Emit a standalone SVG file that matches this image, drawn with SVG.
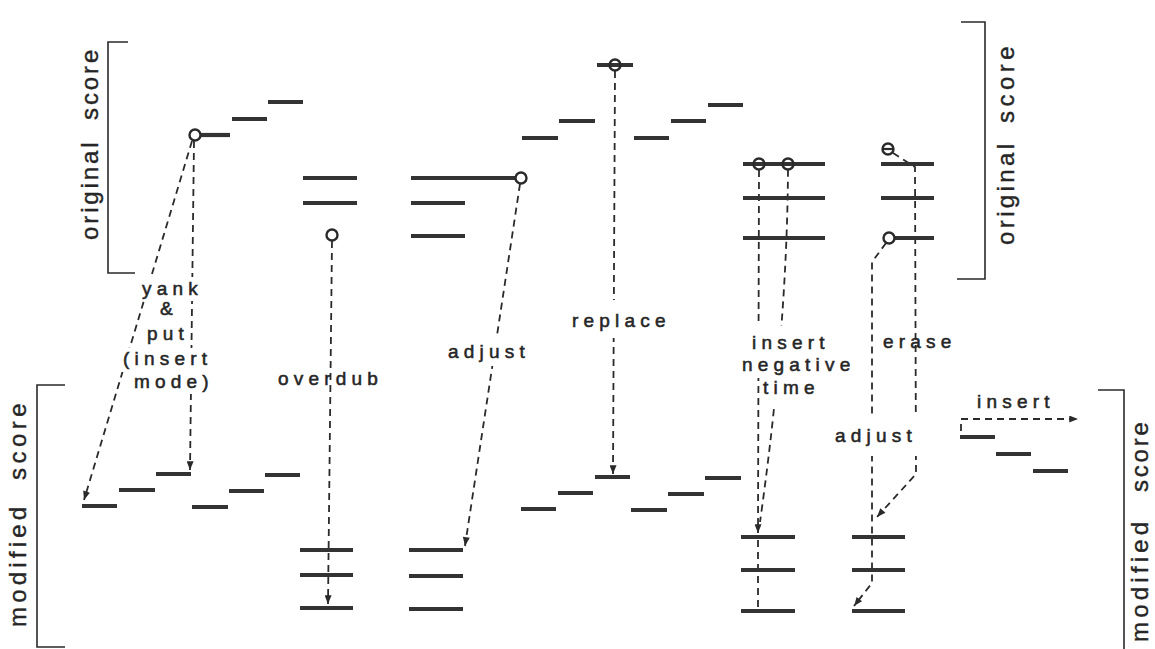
<svg xmlns="http://www.w3.org/2000/svg" width="1155" height="649" viewBox="0 0 1155 649">
<style>
.bar{stroke:#333;stroke-width:4.2;stroke-linecap:butt}
.brk{fill:none;stroke:#2a2a2a;stroke-width:1.6}
.cn{fill:none;stroke:#2a2a2a;stroke-width:1.8;stroke-dasharray:7 5}
.ci{fill:#fff;stroke:#2a2a2a;stroke-width:2.4}
.co{fill:none;stroke:#2a2a2a;stroke-width:2.4}
.lb{font-family:"Liberation Sans",Arial,sans-serif;font-size:19px;letter-spacing:5.2px;fill:#262626;stroke:#262626;stroke-width:0.55}
.side{font-family:"Liberation Sans",Arial,sans-serif;font-size:24px;fill:#262626;stroke:#262626;stroke-width:0.4}
</style>
<defs>
<marker id="ah" viewBox="0 0 10 8" refX="10" refY="4" markerWidth="10" markerHeight="7" markerUnits="userSpaceOnUse" orient="auto"><path d="M0,0 L10,4 L0,8 z" fill="#2a2a2a"/></marker>
<mask id="textgaps" maskUnits="userSpaceOnUse" x="0" y="0" width="1155" height="649">
<rect x="0" y="0" width="1155" height="649" fill="#fff"/>
<g fill="#000">
<rect x="138" y="277" width="60" height="24"/>
<rect x="155" y="299" width="24" height="20"/>
<rect x="143" y="323" width="45" height="23"/>
<rect x="119" y="348" width="92" height="24"/>
<rect x="130" y="372" width="84" height="22"/>
<rect x="444" y="336" width="86" height="30"/>
<rect x="568" y="300" width="103" height="38"/>
<rect x="748" y="326" width="83" height="29"/>
<rect x="738" y="355" width="111" height="23"/>
<rect x="762" y="378" width="60" height="30"/>
<rect x="831" y="416" width="90" height="40"/>
</g>
</mask>
</defs>
<rect width="1155" height="649" fill="#fff"/>

<g id="brackets">
<path class="brk" d="M128,42 H108 V273 H135"/>
<path class="brk" d="M65,385 H37 V647 H65"/>
<path class="brk" d="M961,22 H985 V279 H957"/>
<path class="brk" d="M1098,390 H1124 V649"/>
<text class="side" transform="translate(98,0) rotate(-90)"><tspan x="-240" letter-spacing="2.9">original</tspan><tspan x="-120" letter-spacing="2.9">score</tspan></text>
<text class="side" transform="translate(26,0) rotate(-90)"><tspan x="-627" letter-spacing="4.2">modified</tspan><tspan x="-480" letter-spacing="4.5">score</tspan></text>
<text class="side" transform="translate(1014,0) rotate(-90)"><tspan x="-245" letter-spacing="3.4">original</tspan><tspan x="-123" letter-spacing="4.5">score</tspan></text>
<text class="side" transform="translate(1148,0) rotate(-90)"><tspan x="-642" letter-spacing="4.2">modified</tspan><tspan x="-492" letter-spacing="2.8">score</tspan></text>
</g>

<g id="connectors" mask="url(#textgaps)">
<path class="cn" d="M192,141 L84,500" marker-end="url(#ah)"/>
<path class="cn" d="M194,141 L190,470" marker-end="url(#ah)"/>
<path class="cn" d="M332,241 L328,604" marker-end="url(#ah)"/>
<path class="cn" d="M520,184 L465,546" marker-end="url(#ah)"/>
<path class="cn" d="M615,71 L613,474" marker-end="url(#ah)"/>
<path class="cn" d="M759,170 L758,533" marker-end="url(#ah)"/>
<path class="cn" d="M758,540 L758,611"/>
<path class="cn" d="M788,170 Q787,330 760,522"/>
<path class="cn" d="M893,153 L915,167 L916,474 L877,517" marker-end="url(#ah)"/>
<path class="cn" d="M886,243 L872,262 L872,583 L854,606" marker-end="url(#ah)"/>
<path class="cn" d="M961,431 L961,419 L1078,419" marker-end="url(#ah)"/>
</g>

<g id="labels">
<text class="lb" x="142" y="295">yank</text>
<text class="lb" x="160" y="315">&amp;</text>
<text class="lb" x="147" y="340">put</text>
<text class="lb" x="123" y="365">(insert</text>
<text class="lb" x="134" y="388">mode)</text>
<text class="lb" x="278" y="385">overdub</text>
<text class="lb" x="448" y="358">adjust</text>
<text class="lb" x="572" y="327">replace</text>
<text class="lb" x="752" y="349">insert</text>
<text class="lb" x="742" y="371">negative</text>
<text class="lb" x="763" y="394">time</text>
<text class="lb" x="883" y="348">erase</text>
<text class="lb" x="835" y="442">adjust</text>
<text class="lb" x="977" y="408">insert</text>
</g>

<g id="yank-original">
<line class="bar" x1="200" y1="135" x2="230" y2="135"/>
<line class="bar" x1="232" y1="119" x2="267" y2="119"/>
<line class="bar" x1="268" y1="102" x2="303" y2="102"/>
<circle class="ci" cx="195" cy="135" r="5.5"/>
</g>
<g id="yank-modified">
<line class="bar" x1="82" y1="506" x2="117" y2="506"/>
<line class="bar" x1="119" y1="490" x2="155" y2="490"/>
<line class="bar" x1="156" y1="474" x2="191" y2="474"/>
<line class="bar" x1="192" y1="507" x2="228" y2="507"/>
<line class="bar" x1="229" y1="491" x2="264" y2="491"/>
<line class="bar" x1="265" y1="475" x2="300" y2="475"/>
</g>

<g id="overdub-original">
<line class="bar" x1="303" y1="178" x2="357" y2="178"/>
<line class="bar" x1="303" y1="203" x2="357" y2="203"/>
<circle class="ci" cx="332" cy="235" r="5.5"/>
</g>
<g id="overdub-modified">
<line class="bar" x1="300" y1="550" x2="353" y2="550"/>
<line class="bar" x1="300" y1="575" x2="353" y2="575"/>
<line class="bar" x1="300" y1="608" x2="353" y2="608"/>
</g>

<g id="adjust-original">
<line class="bar" x1="411" y1="178" x2="516" y2="178"/>
<line class="bar" x1="411" y1="203" x2="465" y2="203"/>
<line class="bar" x1="411" y1="236" x2="465" y2="236"/>
<circle class="ci" cx="521" cy="178" r="5.5"/>
</g>
<g id="adjust-modified">
<line class="bar" x1="409" y1="550" x2="463" y2="550"/>
<line class="bar" x1="409" y1="576" x2="463" y2="576"/>
<line class="bar" x1="409" y1="609" x2="463" y2="609"/>
</g>

<g id="replace-original">
<line class="bar" x1="522" y1="138" x2="558" y2="138"/>
<line class="bar" x1="559" y1="121" x2="595" y2="121"/>
<line class="bar" x1="597" y1="65" x2="633" y2="65"/>
<line class="bar" x1="634" y1="138" x2="669" y2="138"/>
<line class="bar" x1="671" y1="121" x2="706" y2="121"/>
<line class="bar" x1="708" y1="105" x2="743" y2="105"/>
<circle class="co" cx="615" cy="65" r="5.5"/>
</g>
<g id="replace-modified">
<line class="bar" x1="521" y1="509" x2="556" y2="509"/>
<line class="bar" x1="558" y1="493" x2="593" y2="493"/>
<line class="bar" x1="595" y1="477" x2="630" y2="477"/>
<line class="bar" x1="631" y1="510" x2="667" y2="510"/>
<line class="bar" x1="668" y1="494" x2="704" y2="494"/>
<line class="bar" x1="705" y1="478" x2="741" y2="478"/>
</g>

<g id="insert-negative-original">
<line class="bar" x1="743" y1="164" x2="825" y2="164"/>
<line class="bar" x1="743" y1="198" x2="825" y2="198"/>
<line class="bar" x1="743" y1="238" x2="825" y2="238"/>
<circle class="co" cx="759" cy="164" r="5.5"/>
<circle class="co" cx="788" cy="164" r="5.5"/>
</g>
<g id="insert-negative-modified">
<line class="bar" x1="741" y1="537" x2="795" y2="537"/>
<line class="bar" x1="741" y1="570" x2="795" y2="570"/>
<line class="bar" x1="741" y1="611" x2="795" y2="611"/>
</g>

<g id="erase-original">
<line class="bar" x1="881" y1="164" x2="934" y2="164"/>
<line class="bar" x1="881" y1="198" x2="934" y2="198"/>
<line class="bar" x1="895" y1="238" x2="934" y2="238"/>
<circle class="ci" cx="888" cy="149" r="5.5"/>
<line x1="882" y1="149" x2="894" y2="149" stroke="#2a2a2a" stroke-width="2.2"/>
<circle class="ci" cx="889" cy="238" r="5.5"/>
</g>
<g id="erase-modified">
<line class="bar" x1="852" y1="537" x2="905" y2="537"/>
<line class="bar" x1="852" y1="570" x2="905" y2="570"/>
<line class="bar" x1="852" y1="611" x2="905" y2="611"/>
</g>

<g id="insert-modified">
<line class="bar" x1="960" y1="437" x2="995" y2="437"/>
<line class="bar" x1="996" y1="454" x2="1031" y2="454"/>
<line class="bar" x1="1033" y1="471" x2="1068" y2="471"/>
</g>
</svg>
